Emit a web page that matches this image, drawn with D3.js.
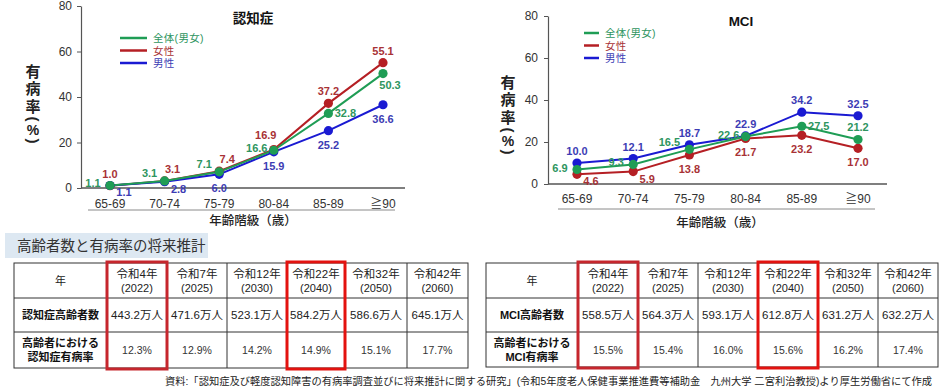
<!DOCTYPE html>
<html><head><meta charset="utf-8">
<script src="https://cdn.jsdelivr.net/npm/d3@7/dist/d3.min.js"></script>
<style>
html,body{margin:0;padding:0;background:#fff;}
svg text{font-family:"Liberation Sans",Arial,"Noto Sans CJK JP",sans-serif;}
</style></head>
<body><svg id="c" width="946" height="389"></svg>
<script>
// ---- data ----
const ages = ["65-69","70-74","75-79","80-84","85-89","≧90"];
const seriesNames = ["全体(男女)","女性","男性"];
const demTotal  = [1.1, 3.1, 7.1, 16.6, 32.8, 50.3];
const demFemale = [1.0, 3.1, 7.4, 16.9, 37.2, 55.1];
const demMale   = [1.1, 2.8, 6.0, 15.9, 25.2, 36.6];
const mciTotal  = [6.9, 9.3, 16.5, 22.6, 27.5, 21.2];
const mciFemale = [4.6, 5.9, 13.8, 21.7, 23.2, 17.0];
const mciMale   = [10.0, 12.1, 18.7, 22.9, 34.2, 32.5];
const yTicks = [0, 20, 40, 60, 80];
const yearsJP = ["令和4年","令和7年","令和12年","令和22年","令和32年","令和42年"];
const yearsAD = ["(2022)","(2025)","(2030)","(2040)","(2050)","(2060)"];
const demCount = ["443.2万人","471.6万人","523.1万人","584.2万人","586.6万人","645.1万人"];
const demRate  = ["12.3%","12.9%","14.2%","14.9%","15.1%","17.7%"];
const mciCount = ["558.5万人","564.3万人","593.1万人","612.8万人","631.2万人","632.2万人"];
const mciRate  = ["15.5%","15.4%","16.0%","15.6%","16.2%","17.4%"];
const highlightCols = [0, 3];

// ---- styles ----
const lineColors  = {"全体(男女)":"#1f9d55","女性":"#b51f24","男性":"#1a1ad2"};
const labelColors = {"全体(男女)":"#2e9560","女性":"#a83236","男性":"#3c3cb4"};
// label placement codes (style, not data)
const offs = {t:[0,-12], b:[0,14], l:[-17,-2], r:[17,0], tl:[-15,-8], tr:[8,-12], br:[14,7], rb:[7,11], ul:[-8,-15], tl2:[-20,-7]};
const demPlace = {"全体(男女)":["l","tl","tl","l","r","rb"], "女性":["t","tr","tr","ul","t","t"], "男性":["br","br","b","b","b","b"]};
const mciPlace = {"全体(男女)":["l","l","tl2","l","r","t"], "女性":["br","br","b","b","b","b"], "男性":["t","t","t","t","t","t"]};
const yTitleChars = [{c:"有"},{c:"病"},{c:"率"},{c:"(",r:90},{c:"%"},{c:")",r:90}];
const yTitleStep  = [0, 17.5, 35, 48, 59, 70];

const svg = d3.select("#c");

function chart(cfg){
  const g = svg.append("g");
  const x = d3.scalePoint().domain(ages).range(cfg.xr);
  const y = d3.scaleLinear().domain([0,80]).range(cfg.yr);
  // y axis
  const ax = g.append("g").attr("transform",`translate(${cfg.ax},0)`)
    .call(d3.axisLeft(y).tickValues(yTicks).tickSize(4).tickSizeOuter(0).tickPadding(cfg.tp));
  ax.select(".domain").attr("stroke","#555").attr("stroke-width",1.2);
  ax.selectAll(".tick line").attr("stroke","#555");
  ax.selectAll(".tick text").attr("fill","#333").style("font-size","12px").attr("font-family",null);
  // baseline
  g.append("line").attr("x1",cfg.ax).attr("x2",cfg.bx).attr("y1",y(0)).attr("y2",y(0))
    .attr("stroke","#555").attr("stroke-width",1.5);
  // x labels
  g.selectAll(".xl").data(ages).join("text").attr("x",d=>x(d)).attr("y",cfg.xly)
    .attr("text-anchor","middle").attr("dominant-baseline","central")
    .style("font-size","12px").attr("fill","#333").text(d=>d);
  g.append("line").attr("x1",cfg.sep[0]).attr("x2",cfg.sep[1]).attr("y1",cfg.sepy).attr("y2",cfg.sepy)
    .attr("stroke","#8a8a8a").attr("stroke-width",1);
  g.append("text").attr("x",cfg.xtx).attr("y",cfg.xty).attr("text-anchor","middle").attr("dominant-baseline","central")
    .style("font-size","12.5px").style("font-weight","500").attr("fill","#222").text("年齢階級（歳）");
  // y title (stacked vertically; parentheses turned)
  yTitleChars.forEach((o,i)=>{
    const ty = cfg.yty + yTitleStep[i];
    const tx = g.append("text").attr("x",cfg.ytx).attr("y",ty).attr("text-anchor","middle")
      .attr("dominant-baseline","central")
      .style("font-size", o.c==="%" ? "14px" : "15px").style("font-weight","600")
      .attr("fill","#222").text(o.c);
    if (o.r) tx.attr("transform",`rotate(${o.r},${cfg.ytx},${ty})`);
  });
  // title
  g.append("text").attr("x",cfg.tx).attr("y",cfg.ty).attr("text-anchor","middle").attr("dominant-baseline","central")
    .style("font-size","13.5px").style("font-weight","bold").attr("fill","#111").text(cfg.title);
  // legend
  seriesNames.forEach((s,i)=>{
    const ly = cfg.leg[2] + i*cfg.leg[3];
    g.append("line").attr("x1",cfg.leg[0]).attr("x2",cfg.leg[1]).attr("y1",ly).attr("y2",ly)
      .attr("stroke",lineColors[s]).attr("stroke-width",2.5);
    g.append("text").attr("x",cfg.leg[1]+6).attr("y",ly).attr("dominant-baseline","central")
      .style("font-size","10.5px").style("letter-spacing","0.3px").attr("fill",labelColors[s]).text(s);
  });
  // series: female, male, then total on top
  const order = ["女性","男性","全体(男女)"];
  const line = d3.line().x((d,i)=>x(ages[i])).y(d=>y(d));
  order.forEach(s=>{
    g.append("path").attr("d",line(cfg.data[s])).attr("fill","none").attr("stroke",lineColors[s]).attr("stroke-width",2);
  });
  order.forEach(s=>{
    g.selectAll(null).data(cfg.data[s]).join("circle").attr("cx",(d,i)=>x(ages[i])).attr("cy",d=>y(d))
      .attr("r",4.6).attr("fill",lineColors[s]);
  });
  order.forEach(s=>{
    g.selectAll(null).data(cfg.data[s]).join("text")
      .attr("x",(d,i)=>x(ages[i])+offs[cfg.place[s][i]][0])
      .attr("y",(d,i)=>y(d)+offs[cfg.place[s][i]][1])
      .attr("text-anchor","middle").attr("dominant-baseline","central")
      .style("font-size","11px").style("font-weight","600").attr("fill",labelColors[s])
      .text(d=>d.toFixed(1));
  });
}

chart({xr:[110,383], yr:[188,6], ax:81, bx:405, tp:5, xly:204, sep:[88,395], sepy:210, xtx:253, xty:221,
  ytx:33, yty:71, tx:253, ty:18, title:"認知症", leg:[120,147,38,12.5],
  data:{"全体(男女)":demTotal,"女性":demFemale,"男性":demMale}, place:demPlace});
chart({xr:[577,858], yr:[184,16], ax:548, bx:887, tp:6, xly:199, sep:[558,875], sepy:209, xtx:720, xty:223,
  ytx:508, yty:82, tx:741, ty:21, title:"MCI", leg:[584,599,33,12.5],
  data:{"全体(男女)":mciTotal,"女性":mciFemale,"男性":mciMale}, place:mciPlace});

// section heading
svg.append("rect").attr("x",5).attr("y",233).attr("width",203).attr("height",25).attr("fill","#dde8f2");
svg.append("text").attr("x",17).attr("y",246).attr("dominant-baseline","central")
  .style("font-size","14.5px").attr("fill","#333").text("高齢者数と有病率の将来推計");

function table(cols, rows, rowHead1, rowHead2, counts, rates){
  const g = svg.append("g");
  g.append("rect").attr("x",cols[0]).attr("y",rows[0]).attr("width",cols[cols.length-1]-cols[0])
    .attr("height",rows[rows.length-1]-rows[0]).attr("fill","#fff").attr("stroke","#333").attr("stroke-width",1);
  cols.slice(1,-1).forEach(c=>g.append("line").attr("x1",c).attr("x2",c).attr("y1",rows[0]).attr("y2",rows[3]).attr("stroke","#333"));
  rows.slice(1,-1).forEach(r=>g.append("line").attr("x1",cols[0]).attr("x2",cols[cols.length-1]).attr("y1",r).attr("y2",r).attr("stroke","#333"));
  const cx = i => (cols[i]+cols[i+1])/2;
  const cy = j => (rows[j]+rows[j+1])/2;
  const t = (x,y,s,opt={}) => g.append("text").attr("x",x).attr("y",y).attr("text-anchor","middle")
    .attr("dominant-baseline","central").style("font-size",(opt.fs||11)+"px").style("font-weight",opt.fw||"normal")
    .attr("fill",opt.c||"#222").text(s);
  t(cx(0),cy(0),"年",{fs:11});
  t(cx(0),cy(1),rowHead1,{fw:"bold",c:"#111"});
  t(cx(0),cy(2)-7,"高齢者における",{fw:"bold",c:"#111"});
  t(cx(0),cy(2)+7,rowHead2,{fw:"bold",c:"#111"});
  yearsJP.forEach((yj,i)=>{
    t(cx(i+1),cy(0)-7,yj,{fs:11.5});
    t(cx(i+1),cy(0)+7,yearsAD[i],{fs:11});
    t(cx(i+1),cy(1),counts[i],{fs:11.5});
    t(cx(i+1),cy(2),rates[i],{fs:10.5,c:"#333"});
  });
  const reds = ["#c6262d","#e3120f"];
  highlightCols.forEach((h,k)=>{
    g.append("rect").attr("x",cols[h+1]).attr("y",rows[0]-1).attr("width",cols[h+2]-cols[h+1])
      .attr("height",rows[3]-rows[0]+2).attr("fill","none").attr("stroke",reds[k]).attr("stroke-width",3);
  });
}
table([14,107,167,227,287,345,407,468],[263,298,332,368],"認知症高齢者数","認知症有病率",demCount,demRate);
table([486,578,638,698,758,818,878,938],[263,298,332,367],"MCI高齢者数","MCI有病率",mciCount,mciRate);

svg.append("text").attr("x",165).attr("y",381).attr("dominant-baseline","central")
  .attr("textLength",767).attr("lengthAdjust","spacingAndGlyphs")
  .style("font-size","10px").attr("fill","#222")
  .text("資料:「認知症及び軽度認知障害の有病率調査並びに将来推計に関する研究」(令和5年度老人保健事業推進費等補助金　九州大学 二宮利治教授)より厚生労働省にて作成");
</script></body></html>
